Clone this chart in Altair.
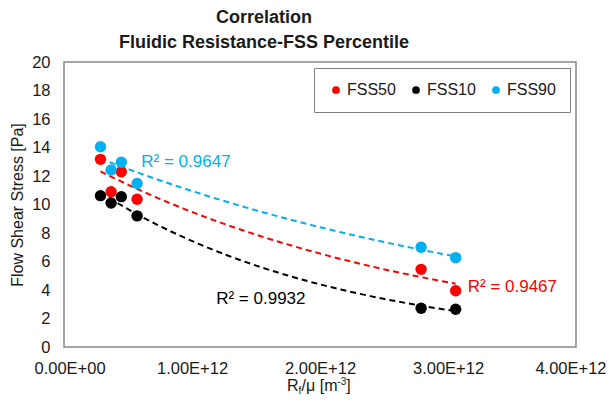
import altair as alt
import pandas as pd

# ---- data ----
x_vals = [0.285e12, 0.368e12, 0.448e12, 0.571e12, 2.79e12, 3.06e12]
series_names = ["FSS50", "FSS10", "FSS90"]
series_colors = ["#FF0000", "#000000", "#00B0F0"]
fss50 = [13.17, 10.90, 12.30, 10.37, 5.45, 3.95]
fss10 = [10.62, 10.10, 10.55, 9.20, 2.72, 2.65]
fss90 = [14.05, 12.42, 12.96, 11.48, 7.00, 6.27]

r2_text = ["R² = 0.9467", "R² = 0.9932", "R² = 0.9647"]
r2_x = [3.154e12, 1.189e12, 0.604e12]
r2_y = [4.23, 3.35, 12.98]

x_ticks = [0, 1e12, 2e12, 3e12, 4e12]
y_ticks = list(range(0, 21, 2))

FONT = "Liberation Sans"

rows = []
for name, vals in zip(series_names, [fss50, fss10, fss90]):
    for xv, yv in zip(x_vals, vals):
        rows.append({"series": name, "x": xv, "y": yv})
df = pd.DataFrame(rows)
ann = pd.DataFrame({"series": series_names, "text": r2_text, "x": r2_x, "y": r2_y})

xscale = alt.Scale(domain=[0, 4e12], nice=False, zero=True)
yscale = alt.Scale(domain=[0, 20], nice=False)
cscale = alt.Scale(domain=series_names, range=series_colors)

xaxis = alt.Axis(
    values=x_ticks,
    labelExpr="datum.value == 0 ? '0.00E+00' : replace(format(datum.value, '.2e'), 'e+', 'E+')",
    title=None, grid=False, domain=False, ticks=False, labelOverlap=False,
    labelFlush=True, labelFlushOffset=30,
    labelFontSize=16.5, labelPadding=13, labelColor="#1a1a1a", labelFont=FONT,
)
yaxis = alt.Axis(
    values=y_ticks, title="Flow Shear Stress [Pa]", grid=False, domain=False, ticks=False,
    labelOverlap=False,
    labelFontSize=16.5, labelPadding=14, labelColor="#1a1a1a", labelFont=FONT,
    titleFontSize=16, titleFont=FONT, titleFontWeight="normal", titleColor="#1a1a1a",
    titleX=-47, titleY=142.5, titleAngle=-90, titleBaseline="middle", titleAlign="center",
)

X = alt.X("x:Q", scale=xscale, axis=xaxis)
Y = alt.Y("y:Q", scale=yscale, axis=yaxis)

base = alt.Chart(df)

# dashed exponential trend lines, one layer per series (constant colour)
line_layers = []
label_layers = []
for name, col in zip(series_names, series_colors):
    line_layers.append(
        base.transform_filter(alt.datum.series == name)
        .transform_regression("x", "y", method="exp")
        .mark_line(strokeDash=[6, 4], strokeWidth=2, color=col)
        .encode(x=X, y=Y)
    )
    label_layers.append(
        alt.Chart(ann).transform_filter(alt.datum.series == name)
        .mark_text(align="left", baseline="middle", fontSize=17, font=FONT, color=col)
        .encode(x=X, y=Y, text="text:N")
    )

points = base.mark_circle(size=130, opacity=1).encode(
    x=X, y=Y,
    color=alt.Color(
        "series:N", scale=cscale,
        legend=alt.Legend(
            title=None, orient="none", legendX=250, legendY=6, direction="horizontal",
            symbolType="circle", symbolSize=60, labelFontSize=16, labelFont=FONT,
            labelColor="#1a1a1a", columnPadding=12, labelOffset=3,
            padding=14, strokeColor="#808080", fillColor="white",
        ),
    ),
)

# x-axis title with subscript / superscript built from text pieces
xt_parts = [
    ("R", 223.0, 329.0, 16),
    ("f", 234.6, 332.0, 10),
    ("/μ [m", 237.6, 329.0, 16),
    ("-3", 273.3, 322.5, 10),
    ("]", 282.2, 329.0, 16),
]
xt_layers = []
for txt, px, py, fs in xt_parts:
    xt_layers.append(
        alt.Chart(pd.DataFrame({"t": [txt]})).mark_text(
            align="left", baseline="alphabetic", fontSize=fs, font=FONT, color="#1a1a1a"
        ).encode(x=alt.value(px), y=alt.value(py), text="t:N")
    )

chart = alt.layer(*line_layers, points, *label_layers, *xt_layers).properties(
    width=512, height=285,
    title=alt.TitleParams(
        text=["Correlation", "Fluidic Resistance-FSS Percentile"],
        fontSize=18, font=FONT, fontWeight="bold", color="#1a1a1a",
        anchor="middle", dx=-56, offset=2, lineHeight=25,
    ),
    autosize=alt.AutoSizeParams(type="none"),
    padding={"left": 56, "top": 54, "right": 32, "bottom": 49},
).configure_view(
    stroke="#888888", strokeWidth=1.5
)

chart.save("out.html", embed_options={"renderer": "svg", "actions": False})
